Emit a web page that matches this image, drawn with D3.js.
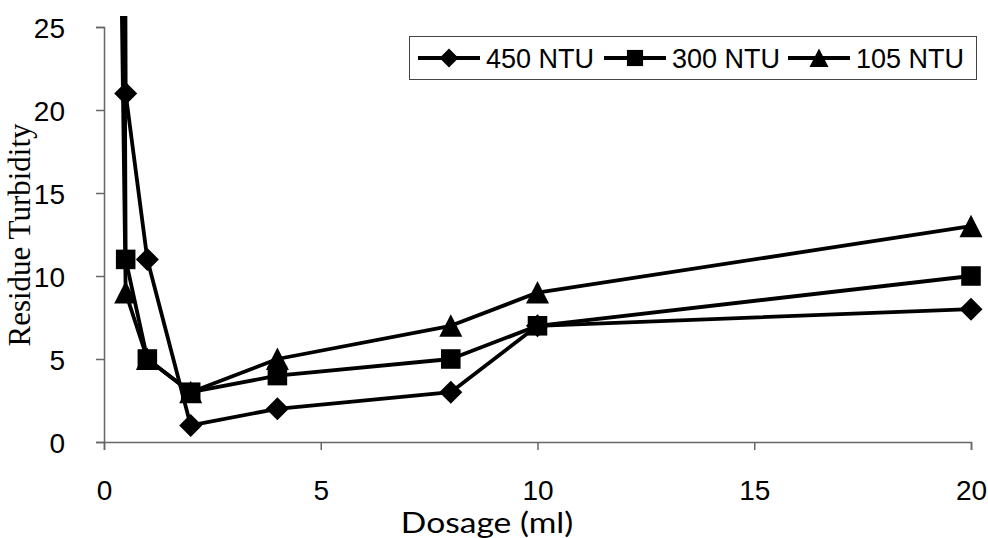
<!DOCTYPE html>
<html><head><meta charset="utf-8">
<script src="https://cdn.jsdelivr.net/npm/d3@7"></script>
<style>body{margin:0;background:#fff}svg{display:block}</style>
</head><body>
<script>
const dosage = [0, 0.5, 1, 2, 4, 8, 10, 20];
const ntu450 = [450, 21, 11, 1, 2, 3, 7, 8];
const ntu300 = [300, 11, 5, 3, 4, 5, 7, 10];
const ntu105 = [105, 9, 5, 3, 5, 7, 9, 13];
const seriesNames = ["450 NTU", "300 NTU", "105 NTU"];
const xTicks = [0, 5, 10, 15, 20];
const yTicks = [0, 5, 10, 15, 20, 25];

const W = 988, H = 538;
const svg = d3.select("body").append("svg").attr("width", W).attr("height", H);
const x = d3.scaleLinear().domain([0, 20]).range([104, 971]);
const y = d3.scaleLinear().domain([0, 25]).range([442, 27]);

svg.append("defs").append("clipPath").attr("id", "clip")
  .append("rect").attr("x", 90).attr("y", 16).attr("width", 898).attr("height", 440);

const SANS = "Liberation Sans, Arial, sans-serif";
// axes
const xAxis = svg.append("g").attr("transform", "translate(0,442)")
  .call(d3.axisBottom(x).tickValues(xTicks).tickSize(8).tickPadding(30).tickFormat(d3.format("d")));
const yAxis = svg.append("g").attr("transform", "translate(104,0)")
  .call(d3.axisLeft(y).tickValues(yTicks).tickSize(8).tickPadding(31).tickFormat(d3.format("d")));
[xAxis, yAxis].forEach(g => {
  g.select(".domain").attr("stroke", "#666").attr("stroke-width", 1.5);
  g.selectAll(".tick line").attr("stroke", "#666").attr("stroke-width", 1.5);
  g.selectAll("text").attr("font-family", SANS).attr("font-size", 28).attr("fill", "#000");
});
yAxis.selectAll("text").attr("dy", "0.36em");

svg.append("text").attr("text-anchor", "middle")
  .attr("transform", "translate(487,533) scale(1.2,1)")
  .attr("font-family", "Lato, 'Open Sans', sans-serif").attr("font-size", 28).text("Dosage (ml)");
svg.append("text").attr("transform", "translate(30,235) rotate(-90)").attr("text-anchor", "middle")
  .attr("font-family", "Liberation Serif, Times New Roman, serif").attr("font-size", 31).text("Residue Turbidity");

// custom marker shapes
const diamond = { draw(ctx, s) { const r = s; ctx.moveTo(0, -r); ctx.lineTo(r, 0); ctx.lineTo(0, r); ctx.lineTo(-r, 0); ctx.closePath(); } };
const square = { draw(ctx, s) { const r = s * 0.85; ctx.rect(-r, -r, 2 * r, 2 * r); } };
const triangle = { draw(ctx, s) { const r = s; ctx.moveTo(0, -r); ctx.lineTo(r, r * 0.95); ctx.lineTo(-r, r * 0.95); ctx.closePath(); } };
const shapes = [diamond, square, triangle];

const all = [ntu450, ntu300, ntu105];
const line = d3.line().x((d, i) => x(dosage[i])).y(d => y(d));
const plot = svg.append("g").attr("clip-path", "url(#clip)");
all.forEach(vals => {
  plot.append("path").datum(vals).attr("d", line)
    .attr("fill", "none").attr("stroke", "#000").attr("stroke-width", 3.8).attr("stroke-linejoin", "round");
});
all.forEach((vals, k) => {
  plot.selectAll(null).data(vals.map((v, i) => [dosage[i], v]).filter(d => d[1] <= 25)).enter()
    .append("path")
    .attr("d", d3.symbol().type(shapes[k]).size(11.5))
    .attr("transform", d => `translate(${x(d[0])},${y(d[1])})`)
    .attr("fill", "#000");
});

// legend
const lg = svg.append("g");
lg.append("rect").attr("x", 409.5).attr("y", 36.5).attr("width", 567).attr("height", 43)
  .attr("fill", "#fff").attr("stroke", "#444").attr("stroke-width", 1);
const lx = [418, 604, 788];
seriesNames.forEach((name, k) => {
  const g = lg.append("g").attr("transform", `translate(${lx[k]},58)`);
  g.append("line").attr("x1", 0).attr("x2", 62).attr("stroke", "#000").attr("stroke-width", 3.8);
  g.append("path").attr("d", d3.symbol().type(shapes[k]).size(9.5))
    .attr("transform", `translate(31,0)`).attr("fill", "#000");
  g.append("text").attr("x", 68).attr("y", 0).attr("dy", "0.36em")
    .attr("font-family", SANS).attr("font-size", 27).text(name);
});
</script>
</body></html>
